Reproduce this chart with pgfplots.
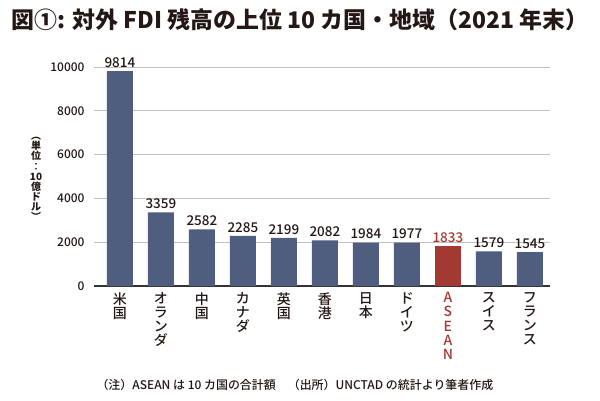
\documentclass[border=0pt]{standalone}
\usepackage{pgfplots}
\pgfplotsset{compat=1.18}
\usepackage{fontspec}
\setmainfont{Noto Sans CJK JP}
\newfontfamily\med{Noto Sans CJK JP Medium}
\definecolor{barblue}{HTML}{4F5D7E}
\definecolor{asred}{HTML}{A23A33}
\definecolor{txt}{HTML}{231815}
\begin{document}
\begin{tikzpicture}[x=1bp,y=1bp]
\path[use as bounding box] (0,0) rectangle (600,400);
\begin{axis}[
  at={(94bp,114bp)}, anchor=south west,
  scale only axis, width=456bp, height=219bp,
  xmin=-0.63, xmax=10.49, ymin=0, ymax=10000,
  scaled ticks=false,
  axis x line*=bottom, axis y line*=left,
  y axis line style={draw=none},
  x axis line style={draw=black!80, line width=1.3bp, -},
  major tick length=0pt,
  ymajorgrids, grid style={draw=black!25, line width=0.8bp},
  ytick={0,2000,4000,6000,8000,10000},
  yticklabel style={font=\med\fontsize{12}{12}\selectfont\color{txt}, anchor=east, xshift=-6bp},
  /pgf/number format/assume math mode=true,
  /pgf/number format/1000 sep={},
  xtick={0,...,10},
  xticklabels={米\\国, オ\\ラ\\ン\\ダ, 中\\国, カ\\ナ\\ダ, 英\\国, 香\\港, 日\\本, ド\\イ\\ツ, \color{asred}A\\\color{asred}S\\\color{asred}E\\\color{asred}A\\\color{asred}N, ス\\イ\\ス, フ\\ラ\\ン\\ス},
  xticklabel style={font=\med\fontsize{14}{14.2}\selectfont\color{txt}, anchor=north, align=center, yshift=-3bp},
  ybar, bar width=26bp,
  nodes near coords,
  every node near coord/.append style={font=\med\fontsize{13.5}{13.5}\selectfont, yshift=0bp},
  clip=false,
]
\addplot[fill=barblue, draw=none, bar shift=0pt, every node near coord/.append style={text=txt}] coordinates {
 (0,9814) (1,3359) (2,2582) (3,2285) (4,2199) (5,2082) (6,1984) (7,1977) (9,1579) (10,1545)};
\addplot[fill=asred, draw=none, bar shift=0pt, every node near coord/.append style={text=asred}] coordinates {(8,1833)};
\end{axis}
\node[font=\fontsize{23}{23}\selectfont\bfseries, text=txt, anchor=center] at (300,380) {図①: 対外 FDI 残高の上位 10 カ国・地域（2021 年末）};
\node[font=\bfseries\fontsize{10}{10.2}\selectfont, text=txt, align=center, anchor=center] at (36,221) {︵\\単\\位\\︰\\10\\億\\ド\\ル\\︶};
\node[font=\med\fontsize{12}{12}\selectfont, text=txt, anchor=west] at (93,15) {（注）ASEAN は 10 カ国の合計額　（出所）UNCTAD の統計より筆者作成};
\end{tikzpicture}
\end{document}
